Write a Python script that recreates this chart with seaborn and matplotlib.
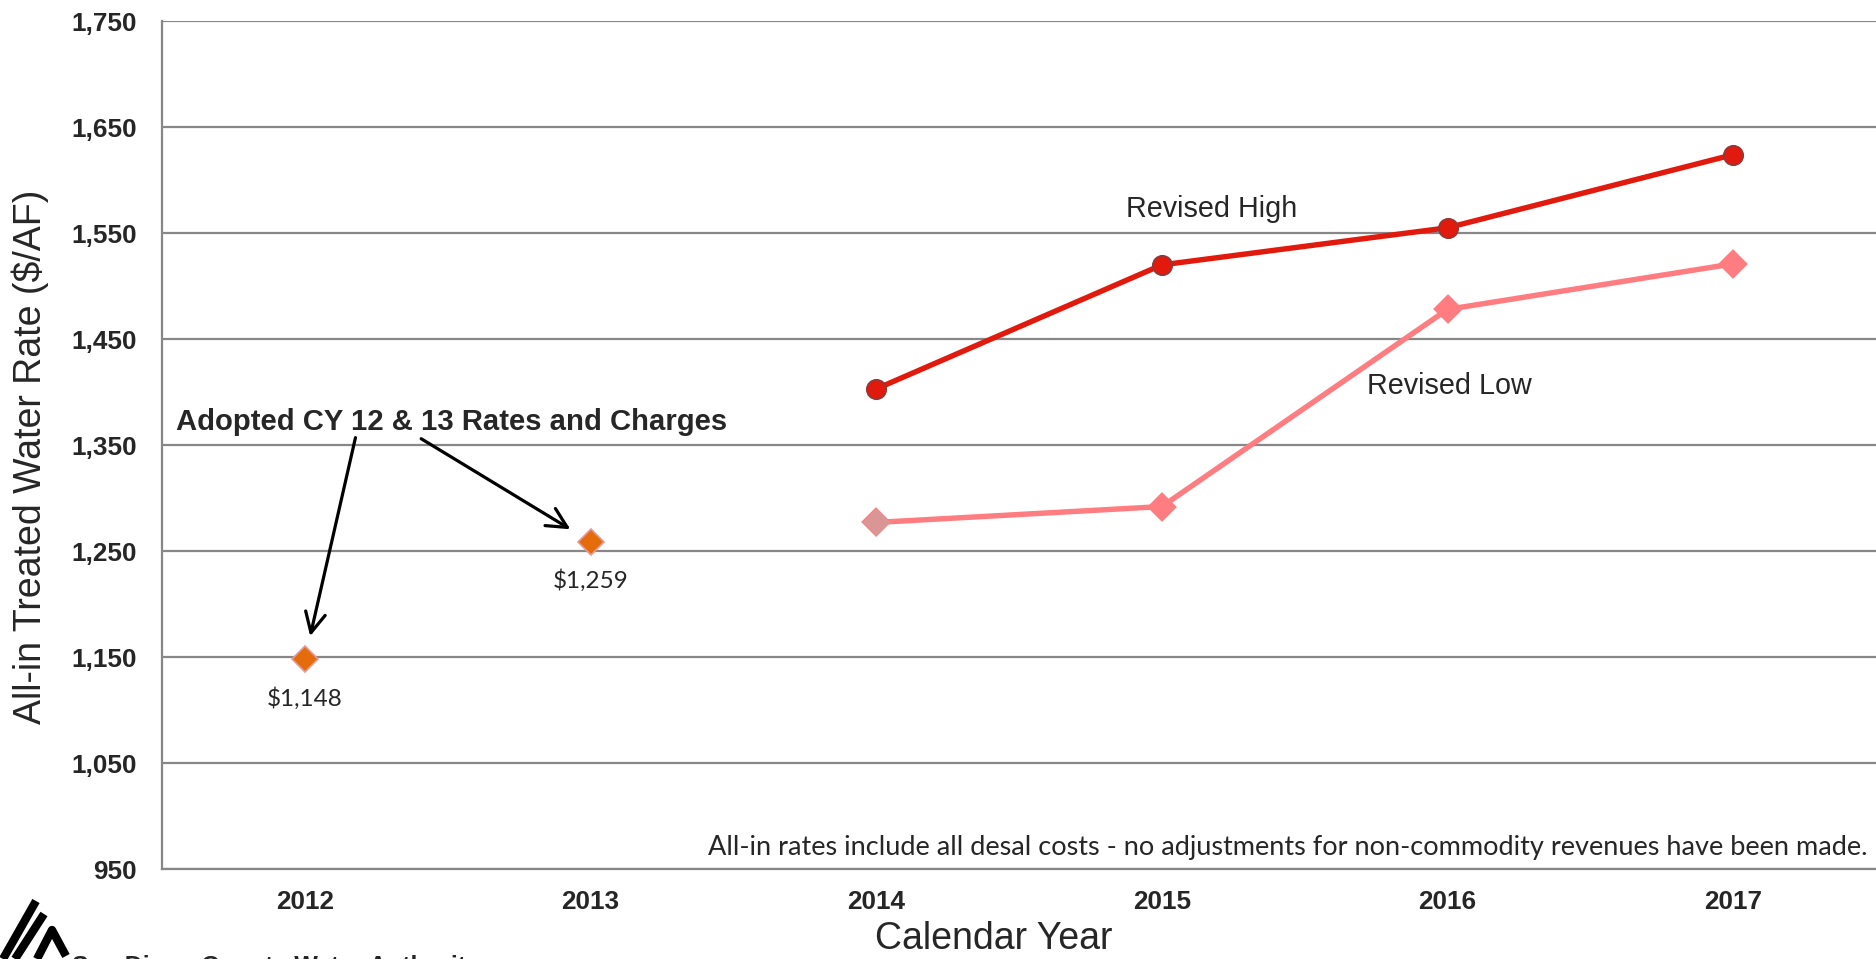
import matplotlib.pyplot as plt
import seaborn as sns
from matplotlib.lines import Line2D
from matplotlib.ticker import FuncFormatter

# chart data
years = ['2012', '2013', '2014', '2015', '2016', '2017']
adopted_years = ['2012', '2013']
adopted_rates = [1148, 1259]
forecast_years = ['2014', '2015', '2016', '2017']
revised_high = [1403, 1520, 1555, 1624]
revised_low = [1277, 1292, 1478, 1521]
y_ticks = [950, 1050, 1150, 1250, 1350, 1450, 1550, 1650, 1750]

sns.set_theme(style='white')
plt.rcParams['font.family'] = ['Liberation Sans', 'DejaVu Sans']

fig, ax = plt.subplots(figsize=(18.76, 9.59), dpi=100)
fig.subplots_adjust(left=0.0864, right=1.0, top=0.978, bottom=0.0938)

# revised high
sns.pointplot(x=forecast_years, y=revised_high, order=years, color='#E2190D',
              marker='o', markersize=14, linewidth=3.9, errorbar=None, ax=ax)
ax.lines[-1].set_markeredgecolor('#8E3A3A')
ax.lines[-1].set_markeredgewidth(1.2)

# revised low
sns.pointplot(x=forecast_years, y=revised_low, order=years, color='#FF7C80',
              marker='D', markersize=12, linewidth=3.9, errorbar=None, ax=ax)
sns.pointplot(x=forecast_years[:1], y=revised_low[:1], order=years, color='#D99694',
              marker='D', markersize=12, linestyle='none', errorbar=None, ax=ax)

# adopted rates
sns.pointplot(x=adopted_years, y=adopted_rates, order=years, color='#E46C0A',
              marker='D', markersize=13, linestyle='none', errorbar=None, ax=ax)
ax.lines[-1].set_markeredgecolor('#E59A9A')
ax.lines[-1].set_markeredgewidth(1.2)

for i, v in enumerate(adopted_rates):
    ax.annotate(f'${v:,}', (i, v), xytext=(0, -20), textcoords='offset points',
                ha='center', va='top', fontsize=17.5, family=['Lato', 'DejaVu Sans'])

ax.set_xlim(-0.5, 5.5)
ax.set_ylim(950, 1750)
ax.set_yticks(y_ticks)
ax.yaxis.set_major_formatter(FuncFormatter(lambda v, p: f'{v:,.0f}'))
ax.set_xticks(range(len(years)))
ax.set_xticklabels(years)
ax.set_xticks([i - 0.5 for i in range(len(years) + 1)], minor=True)
ax.yaxis.grid(True, color='#878787', lw=1.6)
ax.xaxis.grid(False)
ax.set_axisbelow(True)
for s in ['top', 'right']:
    ax.spines[s].set_visible(False)
for s in ['left', 'bottom']:
    ax.spines[s].set_color('#878787')
    ax.spines[s].set_linewidth(1.6)

ax.tick_params(axis='y', length=0, pad=18, labelsize=18.8)
ax.tick_params(axis='x', which='major', length=0, pad=15, labelsize=18.8)
ax.tick_params(axis='x', which='minor', length=7, width=1.2, color='#878787', direction='out')
for lab in ax.get_xticklabels() + ax.get_yticklabels():
    lab.set_fontweight('bold')

ax.set_xlabel('Calendar Year', fontsize=27, va='center')
ax.xaxis.set_label_coords(0.485, -0.082)
ax.set_ylabel('All-in Treated Water Rate ($/AF)', fontsize=27, va='center')
ax.yaxis.set_label_coords(-0.077, 0.486)

# series labels
ax.text(3.175, 1573, 'Revised High', ha='center', va='center', fontsize=20.7)
ax.text(4.005, 1406, 'Revised Low', ha='center', va='center', fontsize=20.7)

# adopted annotation with arrows
ax.text(0.512, 1372, 'Adopted CY 12 & 13 Rates and Charges', ha='center', va='center',
        fontsize=21.1, fontweight='bold')
arrow = dict(arrowstyle='->', color='black', lw=2.3, mutation_scale=36, shrinkA=0, shrinkB=17)
ax.annotate('', xy=(0, adopted_rates[0]), xytext=(0.177, 1357), arrowprops=arrow)
ax.annotate('', xy=(1, adopted_rates[1]), xytext=(0.407, 1356), arrowprops=arrow)

ax.text(0.995, 0.025, 'All-in rates include all desal costs - no adjustments for non-commodity revenues have been made.',
        transform=ax.transAxes, ha='right', va='center', fontsize=19.5, family=['Lato', 'DejaVu Sans'])

# logo, cut off at the bottom edge as in the source slide
fig.text(72 / 1876, 1 - 955 / 959, 'San Diego County Water Authority', ha='left', va='top',
         fontsize=18, fontweight='bold')
logo_strokes = [[(36, 901), (3, 959)],
                [(44, 914), (15, 959)],
                [(37, 959), (52, 930), (66, 956)]]
for pts in logo_strokes:
    fig.add_artist(Line2D([p[0] / 1876 for p in pts], [1 - p[1] / 959 for p in pts],
                          transform=fig.transFigure, color='black', lw=6,
                          solid_capstyle='butt', solid_joinstyle='round'))

fig.savefig('out.png', dpi=100)
